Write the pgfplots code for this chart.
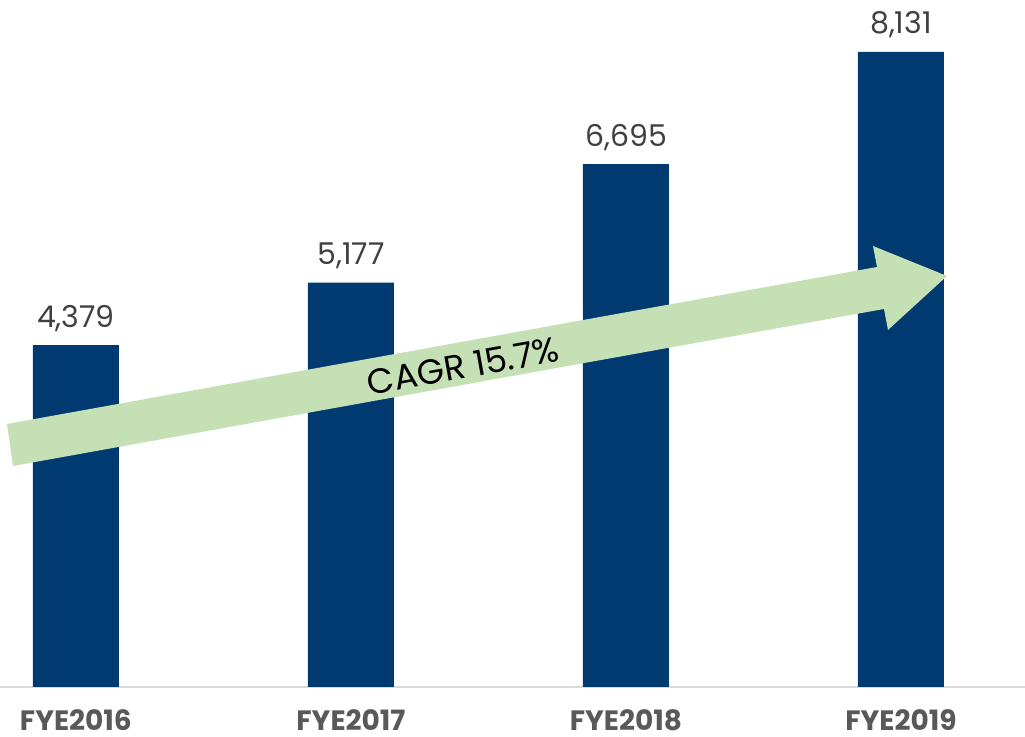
\documentclass[border=0pt]{standalone}
\usepackage{fontspec}
\setmainfont{Poppins}
\usepackage{pgfplots}
\pgfplotsset{compat=1.18}
\definecolor{navy}{HTML}{003A70}
\definecolor{lgreen}{HTML}{C5E0B4}
\definecolor{numgray}{HTML}{404040}
\definecolor{catgray}{HTML}{595959}
\definecolor{axgray}{HTML}{D9D9D9}
\begin{document}
\begin{tikzpicture}
\begin{axis}[
  scale only axis,
  width=1025pt, height=687pt,
  xmin=-0.276, xmax=3.451,
  ymin=0, ymax=8797,
  axis x line*=bottom,
  axis y line=none,
  x axis line style={draw=axgray, line width=2pt, -},
  major tick length=0pt,
  xtick={0,1,2,3},
  xticklabels={FYE2016,FYE2017,FYE2018,FYE2019},
  xticklabel style={font=\fontsize{28}{32}\selectfont\bfseries, text=catgray, anchor=base, inner sep=0pt, yshift=-44pt},
  ybar, bar width=86pt,
  /pgf/number format/assume math mode=true,
  /pgf/number format/1000 sep={,},
  nodes near coords,
  every node near coord/.append style={font=\fontsize{30}{34}\selectfont, text=numgray, anchor=base, yshift=18pt},
]
\addplot[fill=navy, draw=none] coordinates {(0,4379) (1,5177) (2,6695) (3,8131)};
\end{axis}
\begin{scope}[shift={(current axis.north west)}, x=1pt, y=-1pt]
\fill[lgreen] (7,424) -- (877,267) -- (873,246) -- (947,276) -- (888,330) -- (884,309) -- (13,466) -- cycle;
\node[rotate=10.2, inner sep=0pt, font=\fontsize{35}{40}\selectfont, text=black] at (463,366) {CAGR 15.7\%};
\end{scope}
\pgfresetboundingbox
\path[use as bounding box] ([yshift=-50pt]current axis.south west) rectangle (current axis.north east);
\end{tikzpicture}
\end{document}
